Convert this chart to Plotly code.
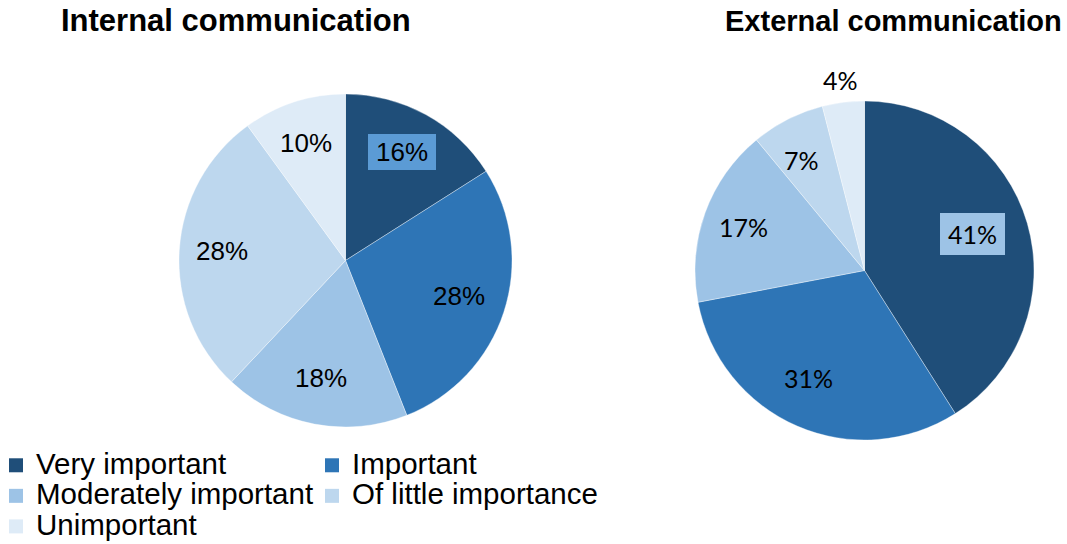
import math
import plotly.graph_objects as go

categories = ["Very important", "Important", "Moderately important",
              "Of little importance", "Unimportant"]
internal_values = [16, 28, 18, 28, 10]
external_values = [41, 31, 17, 7, 4]
titles = ["Internal communication", "External communication"]

colors = ["#1f4e79", "#2e75b6", "#9dc3e6", "#bdd7ee", "#deebf7"]

W, H = 1067, 544

# pie geometry in pixels (center x, center y, radius) and label styling
pies = [
    dict(values=internal_values, cx=345.5, cy=260.5, r=166.5, font="Liberation Sans, Arial",
         fsize=26, box={0: ("#5b9bd5", 68, 36)}, title_x=236, title_size=31,
         frac=0.73, lab_dx=-2, lab_dy=-2),
    dict(values=external_values, cx=864.5, cy=270.5, r=169.5, font="Lato, Carlito, Calibri",
         fsize=25, box={0: ("#9dc3e6", 65, 42)}, title_x=893, title_size=29,
         frac=0.71, lab_dx=-8, lab_dy=-3),
]

fig = go.Figure()
annotations = []
for i, p in enumerate(pies):
    cx, cy, r = p["cx"], p["cy"], p["r"]
    fig.add_trace(go.Pie(
        labels=categories, values=p["values"], sort=False, direction="clockwise",
        rotation=0, textinfo="none", hoverinfo="label+percent",
        marker=dict(colors=colors, line=dict(color="rgba(255,255,255,0.6)", width=0.6)),
        domain=dict(x=[(cx - r) / W, (cx + r) / W], y=[1 - (cy + r) / H, 1 - (cy - r) / H]),
        showlegend=False,
    ))
    total = sum(p["values"])
    cum = 0
    for j, v in enumerate(p["values"]):
        mid = (cum + v / 2) / total * 2 * math.pi
        cum += v
        inside = v / total >= 0.05
        frac = p["frac"] if inside else 1.13
        px = cx + frac * r * math.sin(mid) + (p["lab_dx"] if inside else 0)
        py = cy - frac * r * math.cos(mid) + (p["lab_dy"] if inside else 0)
        ann = dict(x=px / W, y=1 - py / H, xref="paper", yref="paper",
                   text=f"{round(v / total * 100)}%", showarrow=False,
                   xanchor="center", yanchor="middle",
                   font=dict(family=p["font"], size=p["fsize"], color="black"))
        if j in p["box"]:
            bg, bw_, bh_ = p["box"][j]
            ann.update(bgcolor=bg, borderpad=0, borderwidth=0, width=bw_, height=bh_)
        annotations.append(ann)
    annotations.append(dict(x=p["title_x"] / W, y=1 - 21 / H, xref="paper", yref="paper",
                            text=f"<b>{titles[i]}</b>", showarrow=False,
                            xanchor="center", yanchor="middle",
                            font=dict(family="Liberation Sans, Arial", size=p["title_size"],
                                      color="black")))

# legend entries (two columns)
for j, (cat, col) in enumerate(zip(categories, colors)):
    fig.add_trace(go.Scatter(
        x=[None], y=[None], mode="markers",
        name=f'<span style="font-size:29.5px">{cat}</span>',
        marker=dict(symbol="square", size=14, color=col),
        legend="legend" if j % 2 == 0 else "legend2",
        showlegend=True, hoverinfo="skip",
    ))

leg_common = dict(font=dict(family="Liberation Sans, Arial", size=21.2, color="black"),
                  bgcolor="rgba(0,0,0,0)", itemsizing="trace", tracegroupgap=0,
                  xanchor="left", yanchor="top", orientation="v", indentation=-7)

fig.update_layout(
    width=W, height=H,
    margin=dict(l=0, r=0, t=0, b=0, autoexpand=False),
    paper_bgcolor="white", plot_bgcolor="white",
    xaxis=dict(visible=False), yaxis=dict(visible=False),
    annotations=annotations,
    legend=dict(x=3 / W, y=1 - 445 / H, **leg_common),
    legend2=dict(x=319 / W, y=1 - 445 / H, **leg_common),
)

fig.write_html("out.html", config={"displayModeBar": False},
               post_script="document.body.style.margin='0';")
